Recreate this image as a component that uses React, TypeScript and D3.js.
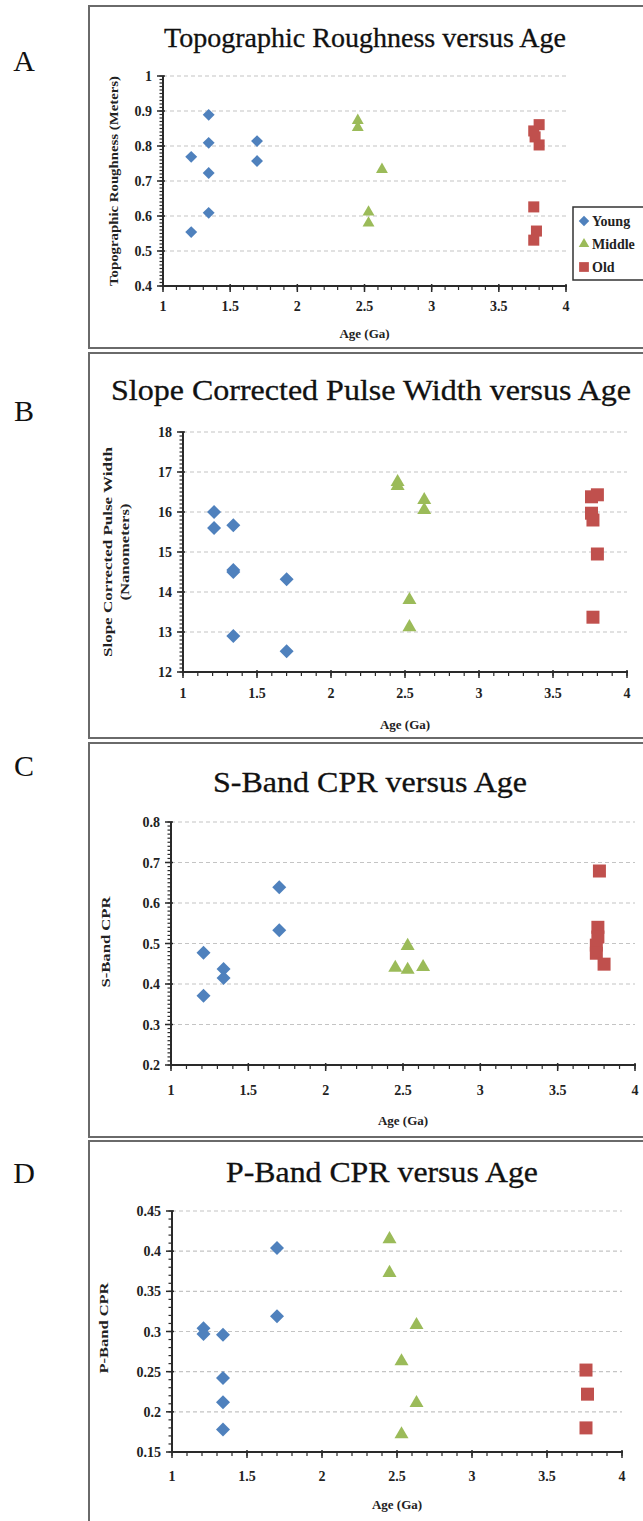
import React, { useEffect, useRef } from "react";
import * as d3 from "d3";

type Pt = [number, number];

const ageTicks = [1, 1.5, 2, 2.5, 3, 3.5, 4];
const groupNames = ["Young", "Middle", "Old"];
const groupColors = ["#4F81BD", "#9BBB59", "#C0504D"];

// A - topographic roughness (meters)
const roughTicks = [0.4, 0.5, 0.6, 0.7, 0.8, 0.9, 1];
const roughYoung: Pt[] = [[1.21, 0.769], [1.21, 0.554], [1.34, 0.889], [1.34, 0.809], [1.34, 0.723], [1.34, 0.609], [1.7, 0.814], [1.7, 0.757]];
const roughMiddle: Pt[] = [[2.45, 0.873], [2.45, 0.853], [2.63, 0.733], [2.53, 0.611], [2.53, 0.58]];
const roughOld: Pt[] = [[3.8, 0.861], [3.76, 0.843], [3.77, 0.826], [3.8, 0.803], [3.76, 0.626], [3.78, 0.557], [3.76, 0.531]];

// B - slope corrected pulse width (nm)
const pulseTicks = [12, 13, 14, 15, 16, 17, 18];
const pulseYoung: Pt[] = [[1.21, 16.0], [1.21, 15.6], [1.34, 15.67], [1.34, 14.55], [1.34, 14.5], [1.34, 12.9], [1.7, 14.32], [1.7, 12.52]];
const pulseMiddle: Pt[] = [[2.45, 16.75], [2.45, 16.65], [2.63, 16.3], [2.63, 16.05], [2.53, 13.8], [2.53, 13.12]];
const pulseOld: Pt[] = [[3.76, 16.38], [3.8, 16.43], [3.76, 15.97], [3.77, 15.8], [3.8, 14.95], [3.77, 13.37]];

// C - S-band CPR
const sbandTicks = [0.2, 0.3, 0.4, 0.5, 0.6, 0.7, 0.8];
const sbandYoung: Pt[] = [[1.21, 0.477], [1.21, 0.371], [1.34, 0.437], [1.34, 0.415], [1.7, 0.639], [1.7, 0.533]];
const sbandMiddle: Pt[] = [[2.45, 0.44], [2.53, 0.494], [2.53, 0.435], [2.63, 0.442]];
const sbandOld: Pt[] = [[3.77, 0.679], [3.76, 0.54], [3.76, 0.516], [3.75, 0.496], [3.75, 0.476], [3.8, 0.449]];

// D - P-band CPR
const pbandTicks = [0.15, 0.2, 0.25, 0.3, 0.35, 0.4, 0.45];
const pbandYoung: Pt[] = [[1.21, 0.304], [1.21, 0.297], [1.34, 0.296], [1.34, 0.242], [1.34, 0.212], [1.34, 0.178], [1.7, 0.404], [1.7, 0.319]];
const pbandMiddle: Pt[] = [[2.45, 0.415], [2.45, 0.373], [2.63, 0.308], [2.53, 0.263], [2.63, 0.211], [2.53, 0.172]];
const pbandOld: Pt[] = [[3.76, 0.252], [3.77, 0.222], [3.76, 0.18]];

const panels = [
  {
    letter: "A", letterY: 71, top: 6, bottom: 348,
    title: "Topographic Roughness versus Age", titleX: 365, titleY: 47, titleSize: 27, titleLen: 402,
    yLabel: ["Topographic Roughness (Meters)"], yLabelX: [114], yLabelLen: [210], yLabelY: 181,
    x0: 163, x1: 566, yTop: 76, yBot: 286, yTicks: roughTicks, minorCount: 60,
    tickDy: 25, xTitleY: 338, markerK: 0.85, legend: true,
    series: [roughYoung, roughMiddle, roughOld],
  },
  {
    letter: "B", letterY: 421, top: 353, bottom: 738,
    title: "Slope Corrected Pulse Width versus Age", titleX: 371, titleY: 400, titleSize: 30, titleLen: 520,
    yLabel: ["Slope Corrected Pulse Width", "(Nanometers)"], yLabelX: [108, 125], yLabelLen: [210, 97], yLabelY: 552,
    x0: 183, x1: 627, yTop: 432, yBot: 672, yTicks: pulseTicks, minorCount: 60,
    tickDy: 26, xTitleY: 729, markerK: 1, legend: false,
    series: [pulseYoung, pulseMiddle, pulseOld],
  },
  {
    letter: "C", letterY: 776, top: 743, bottom: 1137,
    title: "S-Band CPR versus Age", titleX: 370, titleY: 792, titleSize: 30, titleLen: 314,
    yLabel: ["S-Band CPR"], yLabelX: [106], yLabelLen: [91], yLabelY: 942,
    x0: 171, x1: 635, yTop: 822, yBot: 1065, yTicks: sbandTicks, minorCount: 60,
    tickDy: 30, xTitleY: 1125, markerK: 1, legend: false,
    series: [sbandYoung, sbandMiddle, sbandOld],
  },
  {
    letter: "D", letterY: 1183, top: 1141, bottom: 1540,
    title: "P-Band CPR versus Age", titleX: 382, titleY: 1182, titleSize: 29, titleLen: 312,
    yLabel: ["P-Band CPR"], yLabelX: [104], yLabelLen: [91], yLabelY: 1328,
    x0: 172, x1: 622, yTop: 1211, yBot: 1452, yTicks: pbandTicks, minorCount: 30,
    tickDy: 29, xTitleY: 1509, markerK: 1, legend: false,
    series: [pbandYoung, pbandMiddle, pbandOld],
  },
];

const serif = "'Liberation Serif', 'DejaVu Serif', serif";
const fmt = (v: number) => `${+v.toFixed(2)}`;

function markerPath(group: number, k: number) {
  if (group === 0) return d3.symbol(d3.symbolSquare, 2 * (7 * k) ** 2)();
  if (group === 1) return d3.symbol(d3.symbolTriangle, (Math.sqrt(3) / 4) * (14 * k) ** 2)();
  return d3.symbol(d3.symbolSquare, (13 * k) ** 2)();
}

const App = () => {
  const svgRef = useRef<SVGSVGElement>(null);

  useEffect(() => {
    const svg = d3.select(svgRef.current);
    svg.selectAll("*").remove();

    svg.append("rect").attr("width", 643).attr("height", 1521).attr("fill", "#fff");

    panels.forEach((p) => {
      const g = svg.append("g");

      // frame
      g.append("rect")
        .attr("x", 89).attr("y", p.top)
        .attr("width", 600).attr("height", p.bottom - p.top)
        .attr("fill", "#fff").attr("stroke", "#6a6a6a").attr("stroke-width", 2);

      // panel letter
      g.append("text")
        .attr("x", 24).attr("y", p.letterY)
        .attr("text-anchor", "middle")
        .style("font-family", serif).style("font-size", "30px")
        .attr("fill", "#111")
        .text(p.letter);

      const x = d3.scaleLinear().domain([1, 4]).range([p.x0, p.x1]);
      const yDom = d3.extent(p.yTicks) as [number, number];
      const y = d3.scaleLinear().domain(yDom).range([p.yBot, p.yTop]);

      // dashed gridlines
      g.append("g")
        .selectAll("line")
        .data(p.yTicks.filter((t) => t !== yDom[0]))
        .join("line")
        .attr("x1", p.x0).attr("x2", p.x1)
        .attr("y1", (d) => y(d)).attr("y2", (d) => y(d))
        .attr("stroke", "#c4c4c4").attr("stroke-width", 1.2)
        .attr("stroke-dasharray", "4,3");

      // title
      g.append("text")
        .attr("x", p.titleX).attr("y", p.titleY)
        .attr("text-anchor", "middle")
        .attr("textLength", p.titleLen).attr("lengthAdjust", "spacingAndGlyphs")
        .style("font-family", serif).style("font-size", `${p.titleSize}px`)
        .attr("fill", "#111").attr("stroke", "#111").attr("stroke-width", 0.3)
        .text(p.title);

      // y axis line + ticks
      const axisCol = "#2a2a2a";
      g.append("line")
        .attr("x1", p.x0).attr("x2", p.x0)
        .attr("y1", p.yTop).attr("y2", p.yBot)
        .attr("stroke", axisCol).attr("stroke-width", 2);
      g.append("g")
        .selectAll("line")
        .data(y.ticks(p.minorCount))
        .join("line")
        .attr("x1", p.x0 - 3.5).attr("x2", p.x0 + 1)
        .attr("y1", (d) => y(d)).attr("y2", (d) => y(d))
        .attr("stroke", axisCol).attr("stroke-width", 1.2);
      g.append("g")
        .selectAll("line")
        .data(p.yTicks)
        .join("line")
        .attr("x1", p.x0 - 6).attr("x2", p.x0 + 2)
        .attr("y1", (d) => y(d)).attr("y2", (d) => y(d))
        .attr("stroke", axisCol).attr("stroke-width", 1.5);
      g.append("g")
        .selectAll("text")
        .data(p.yTicks)
        .join("text")
        .attr("x", p.x0 - 11).attr("y", (d) => y(d) + 5)
        .attr("text-anchor", "end")
        .style("font-family", serif).style("font-size", "14px").style("font-weight", "bold")
        .attr("fill", "#222")
        .text((d) => fmt(d));

      // x axis line + ticks
      g.append("line")
        .attr("x1", p.x0 - 1).attr("x2", p.x1 + 1)
        .attr("y1", p.yBot).attr("y2", p.yBot)
        .attr("stroke", axisCol).attr("stroke-width", 2);
      g.append("g")
        .selectAll("line")
        .data(x.ticks(30))
        .join("line")
        .attr("x1", (d) => x(d)).attr("x2", (d) => x(d))
        .attr("y1", p.yBot).attr("y2", p.yBot + 4)
        .attr("stroke", axisCol).attr("stroke-width", 1.2);
      g.append("g")
        .selectAll("line")
        .data(ageTicks)
        .join("line")
        .attr("x1", (d) => x(d)).attr("x2", (d) => x(d))
        .attr("y1", p.yBot - 2).attr("y2", p.yBot + 6)
        .attr("stroke", axisCol).attr("stroke-width", 1.5);
      g.append("g")
        .selectAll("text")
        .data(ageTicks)
        .join("text")
        .attr("x", (d) => x(d)).attr("y", p.yBot + p.tickDy)
        .attr("text-anchor", "middle")
        .style("font-family", serif).style("font-size", "14px").style("font-weight", "bold")
        .attr("fill", "#222")
        .text((d) => fmt(d));

      // axis titles
      g.append("text")
        .attr("x", (p.x0 + p.x1) / 2).attr("y", p.xTitleY)
        .attr("text-anchor", "middle")
        .style("font-family", serif).style("font-size", "13px").style("font-weight", "bold")
        .attr("fill", "#222")
        .text("Age (Ga)");
      p.yLabel.forEach((line, i) => {
        g.append("text")
          .attr("transform", `translate(${p.yLabelX[i] + 4},${p.yLabelY}) rotate(-90)`)
          .attr("text-anchor", "middle")
          .attr("textLength", p.yLabelLen[i]).attr("lengthAdjust", "spacingAndGlyphs")
          .style("font-family", serif).style("font-size", "12px").style("font-weight", "bold")
          .attr("fill", "#222")
          .text(line);
      });

      // markers
      p.series.forEach((pts, gi) => {
        g.append("g")
          .selectAll("path")
          .data(pts)
          .join("path")
          .attr("d", markerPath(gi, p.markerK))
          .attr("transform", (d) =>
            `translate(${x(d[0])},${y(d[1])})${gi === 0 ? " rotate(45)" : ""}`)
          .attr("fill", groupColors[gi]);
      });

      // legend
      if (p.legend) {
        const lg = g.append("g");
        lg.append("rect")
          .attr("x", 573).attr("y", 207).attr("width", 90).attr("height", 73)
          .attr("fill", "#fff").attr("stroke", "#333").attr("stroke-width", 1.5);
        groupNames.forEach((name, gi) => {
          const ly = 221 + gi * 23;
          lg.append("path")
            .attr("d", markerPath(gi, 0.75))
            .attr("transform", `translate(584,${ly})${gi === 0 ? " rotate(45)" : ""}`)
            .attr("fill", groupColors[gi]);
          lg.append("text")
            .attr("x", 592).attr("y", ly + 5)
            .style("font-family", serif).style("font-size", "14px").style("font-weight", "bold")
            .attr("fill", "#222")
            .text(name);
        });
      }
    });
  }, []);

  return (
    <svg
      ref={svgRef}
      width={643}
      height={1521}
      style={{ position: "absolute", left: 0, top: 0, display: "block" }}
    />
  );
};

export default App;
